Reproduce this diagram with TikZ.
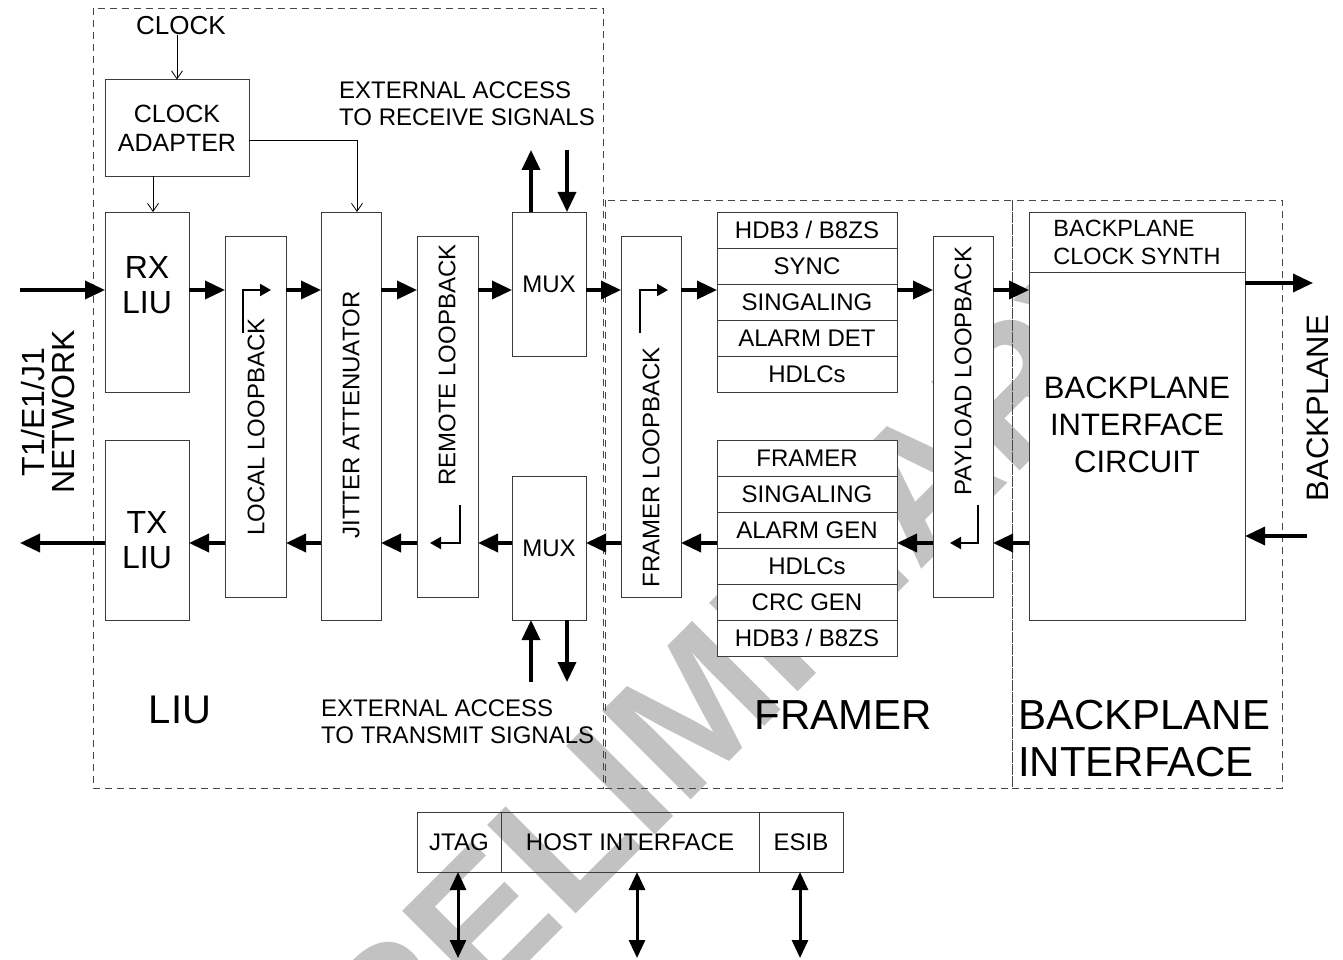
\documentclass[tikz,border=0pt]{standalone}
\usepackage{fontspec}
\setmainfont{Liberation Sans}
\usetikzlibrary{arrows.meta, positioning, calc}
\definecolor{edge}{RGB}{60,60,60}
\definecolor{zonegray}{RGB}{70,70,70}
\definecolor{wmgray}{RGB}{194,194,194}
\newcommand{\fsz}[2]{\fontsize{#1}{#2}\selectfont}

\begin{document}
\begin{tikzpicture}[x=1pt, y=-1pt,
  blk/.style={draw=edge, fill=white, line width=0.8pt, inner sep=0pt, outer sep=0pt, align=center, font=\fsz{24}{28}},
  cell/.style={blk, minimum width=180pt, minimum height=36pt},
  hostbox/.style={draw=edge, line width=0.8pt, inner sep=0pt, outer sep=0pt, minimum height=60pt, font=\fsz{24}{28}},
  zone/.style={draw=zonegray, line width=0.8pt, dash pattern=on 7pt off 5pt},
  vtext/.style={rotate=90, font=\fsz{24}{28}, inner sep=0pt},
  txt/.style={align=left, font=\fsz{24}{27}, inner sep=0pt},
  bus/.style={-{Triangle[length=20pt,width=18pt]}, line width=3.5pt},
  dbus/.style={{Triangle[length=18pt,width=16pt]}-{Triangle[length=18pt,width=16pt]}, line width=3pt},
  turnarrow/.style={-{Triangle[length=11pt,width=12pt]}, line width=2pt},
  thin/.style={-{Straight Barb[length=8pt,width=11pt]}, line width=0.8pt}]

  \useasboundingbox (0,0) rectangle (1343,960);

  % Watermark
  \node[rotate=45, text=wmgray, inner sep=0pt, font=\bfseries\fsz{182}{182}] (wm) at (700,702) {PRELIMINARY};

  % Zones
  \draw[zone] (93,8) rectangle (603,788);
  \draw[zone] (605,200) rectangle (1012,788);
  \draw[zone] (1012,200) rectangle (1282,788);

  % LIU blocks
  \node[blk, minimum width=144pt, minimum height=97pt, font=\fsz{25}{29}] (cka) at (177,128) {CLOCK\\ADAPTER};
  \node[blk, minimum width=84pt, minimum height=180pt] (rx) at (147,302) {};
  \node[blk, minimum width=84pt, minimum height=180pt] (tx) at (147,530) {};
  \node[blk, minimum width=61pt, minimum height=361pt] (lcl) at (255.5,416.5) {};
  \node[blk, minimum width=60pt, minimum height=408pt] (jit) at (351,416) {};
  \node[blk, minimum width=61pt, minimum height=361pt] (rmt) at (447.5,416.5) {};
  \node[blk, minimum width=74pt, minimum height=144pt] (muxr) at (549,284) {MUX};
  \node[blk, minimum width=74pt, minimum height=144pt] (muxt) at (549,548) {MUX};

  % Framer blocks
  \node[blk, minimum width=60pt, minimum height=361pt] (flb) at (651,416.5) {};
  \foreach \txt [count=\i from 0] in {{HDB3 / B8ZS}, SYNC, SINGALING, {ALARM DET}, HDLCs}
    \node[cell] (rxc\i) at (807,{230+36*\i}) {\txt};
  \foreach \txt [count=\i from 0] in {FRAMER, SINGALING, {ALARM GEN}, HDLCs, {CRC GEN}, {HDB3 / B8ZS}}
    \node[cell] (txc\i) at (807,{458+36*\i}) {\txt};
  \node[blk, minimum width=60pt, minimum height=361pt] (pld) at (963,416.5) {};

  % Backplane blocks
  \node[blk, minimum width=216pt, minimum height=60pt, align=left, font=\fsz{23.5}{28}] (bcs) at (1137,242) {BACKPLANE\\CLOCK SYNTH};
  \node[blk, minimum width=216pt, minimum height=348pt] (bic) at (1137,446) {};

  % Host interface
  \node[hostbox, minimum width=84pt] (jtag) at (459,842) {JTAG};
  \node[hostbox, minimum width=258pt] (host) at (630,842) {HOST INTERFACE};
  \node[hostbox, minimum width=84pt] (esib) at (801,842) {ESIB};

  % Labels
  \node[font=\fsz{32}{35}, align=center, inner sep=0pt] (rxl) at (147,285) {RX\\LIU};
  \node[font=\fsz{32}{35}, align=center, inner sep=0pt] (txl) at (147,540) {TX\\LIU};
  \node[vtext] (lcll) at (256,427) {LOCAL LOOPBACK};
  \node[vtext] (jitl) at (351,415) {JITTER ATTENUATOR};
  \node[vtext] (rmtl) at (447,365) {REMOTE LOOPBACK};
  \node[vtext] (flbl) at (651,467) {FRAMER LOOPBACK};
  \node[vtext] (pldl) at (963,371) {PAYLOAD LOOPBACK};
  \node[font=\fsz{31}{37}, align=center, inner sep=0pt] (bicl) at (1137,425) {BACKPLANE\\INTERFACE\\CIRCUIT};
  \node[font=\fsz{26}{30}, inner sep=0pt] (clk) at (181,26) {CLOCK};
  \node[txt, anchor=west] (extrx) at (339,104) {EXTERNAL ACCESS\\TO RECEIVE SIGNALS};
  \node[txt, anchor=west] (exttx) at (321,722) {EXTERNAL ACCESS\\TO TRANSMIT SIGNALS};
  \node[font=\fsz{40}{44}, inner sep=0pt] (liul) at (180,710) {LIU};
  \node[font=\fsz{42}{47}, inner sep=0pt] (frml) at (843,715) {FRAMER};
  \node[font=\fsz{42}{47}, align=left, inner sep=0pt, anchor=west] (bpil) at (1018,739) {BACKPLANE\\INTERFACE};
  \node[rotate=90, font=\fsz{32}{30}, align=center, inner sep=0pt] (netl) at (48,412) {T1/E1/J1\\NETWORK};
  \node[rotate=90, font=\fsz{31}{35}, inner sep=0pt] (bpl) at (1318,408) {BACKPLANE};

  % Free ends
  \coordinate (toprow) at (0,290);
  \coordinate (botrow) at (0,543);
  \coordinate (netin) at (20,290);
  \coordinate (netout) at (20,543);
  \coordinate (bpout) at (1313,283);
  \coordinate (bpin) at (1307,536);
  \coordinate (rxup) at (531,150);
  \coordinate (rxdn) at (567,150);
  \coordinate (txup) at (531,682);
  \coordinate (txdn) at (567,682);
  \coordinate (jt) at (458,958);
  \coordinate (hi) at (637,958);
  \coordinate (es) at (800,958);
  \coordinate (rxclk) at (153,0);
  \coordinate (ckj) at (357,140);

  % Receive path
  \draw[bus] (netin) -- (rx.west |- toprow);
  \draw[bus] (rx.east |- toprow) -- (lcl.west |- toprow);
  \draw[bus] (lcl.east |- toprow) -- (jit.west |- toprow);
  \draw[bus] (jit.east |- toprow) -- (rmt.west |- toprow);
  \draw[bus] (rmt.east |- toprow) -- (muxr.west |- toprow);
  \draw[bus] (muxr.east |- toprow) -- (flb.west |- toprow);
  \draw[bus] (flb.east |- toprow) -- (rxc2.west |- toprow);
  \draw[bus] (rxc2.east |- toprow) -- (pld.west |- toprow);
  \draw[bus] (pld.east |- toprow) -- (bic.west |- toprow);
  \draw[bus] (bic.east |- bpout) -- (bpout);

  % Transmit path
  \draw[bus] (bpin) -- (bic.east |- bpin);
  \draw[bus] (bic.west |- botrow) -- (pld.east |- botrow);
  \draw[bus] (pld.west |- botrow) -- (txc2.east |- botrow);
  \draw[bus] (txc2.west |- botrow) -- (flb.east |- botrow);
  \draw[bus] (flb.west |- botrow) -- (muxt.east |- botrow);
  \draw[bus] (muxt.west |- botrow) -- (rmt.east |- botrow);
  \draw[bus] (rmt.west |- botrow) -- (jit.east |- botrow);
  \draw[bus] (jit.west |- botrow) -- (lcl.east |- botrow);
  \draw[bus] (lcl.west |- botrow) -- (tx.east |- botrow);
  \draw[bus] (tx.west |- botrow) -- (netout);

  % Loopback turns
  \draw[turnarrow] (243,333) |- (271,290);
  \draw[turnarrow] (640,333) |- (668,290);
  \draw[turnarrow] (460,505) |- (430,543);
  \draw[turnarrow] (978,505) |- (950,543);

  % External access
  \draw[bus] (muxr.north -| rxup) -- (rxup);
  \draw[bus] (rxdn) -- (muxr.north -| rxdn);
  \draw[bus] (txup) -- (muxt.south -| txup);
  \draw[bus] (muxt.south -| txdn) -- (txdn);

  % Host side
  \draw[dbus] (jtag.south -| jt) -- (jt);
  \draw[dbus] (host.south -| hi) -- (hi);
  \draw[dbus] (esib.south -| es) -- (es);

  % Clock
  \draw[thin] (clk.south -| cka.north) -- (cka.north);
  \draw[thin] (cka.south -| rxclk) -- (rx.north -| rxclk);
  \draw[thin] (cka.east |- ckj) -| (jit.north -| ckj);

\end{tikzpicture}
\end{document}
